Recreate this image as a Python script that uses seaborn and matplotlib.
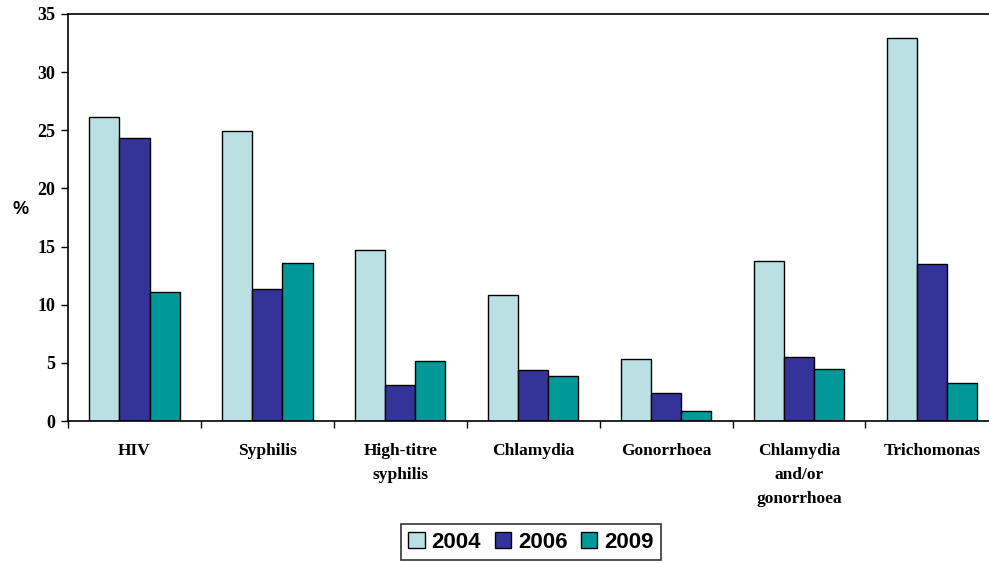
import numpy as np
import pandas as pd
import matplotlib
matplotlib.use("Agg")
import matplotlib.pyplot as plt
import seaborn as sns

# data
categories = ["HIV", "Syphilis", "High-titre\nsyphilis", "Chlamydia",
              "Gonorrhoea", "Chlamydia\nand/or\ngonorrhoea", "Trichomonas"]
years = ["2004", "2006", "2009"]
values_2004 = [26.1, 24.9, 14.7, 10.8, 5.3, 13.8, 32.9]
values_2006 = [24.3, 11.35, 3.1, 4.35, 2.4, 5.5, 13.5]
values_2009 = [11.1, 13.6, 5.2, 3.9, 0.85, 4.45, 3.3]
colors = ["#BBE0E3", "#333399", "#009999"]
y_ticks = [0, 5, 10, 15, 20, 25, 30, 35]

df = pd.DataFrame({
    "category": categories * 3,
    "year": [years[0]] * 7 + [years[1]] * 7 + [years[2]] * 7,
    "value": values_2004 + values_2006 + values_2009,
})

sns.set_style("white")
plt.rcParams.update({"text.color": "black", "axes.labelcolor": "black",
                     "xtick.color": "black", "ytick.color": "black"})

fig = plt.figure(figsize=(9.89, 5.63), dpi=100)
ax = fig.add_axes([68 / 989, (563 - 421) / 563, 1 - 68 / 989, (421 - 14) / 563])

sns.barplot(data=df, x="category", y="value", hue="year", order=categories,
            hue_order=years, palette=colors, width=0.68, gap=0,
            edgecolor="black", linewidth=1, saturation=1, ax=ax)

ax.set_ylim(0, 35)
ax.set_xlim(-0.5, 6.43)
ax.set_yticks(y_ticks)
ax.set_yticklabels([str(t) for t in y_ticks], fontfamily="Liberation Serif",
                   fontweight="bold", fontsize=13)
ax.set_xticks(range(len(categories)))
ax.set_xticklabels(categories, fontfamily="Liberation Serif",
                   fontweight="bold", fontsize=12.5, linespacing=1.65)
ax.tick_params(axis="x", which="major", length=0, pad=16)
ax.set_xticks(np.arange(-0.5, 6.5, 1), minor=True)
ax.tick_params(axis="x", which="minor", length=5, width=1, color="black",
               direction="out", bottom=True)
ax.tick_params(axis="y", length=5, width=1, color="black", direction="out",
               left=True, pad=4)

ax.set_xlabel("")
ax.set_ylabel("%", rotation=0, fontfamily="Liberation Sans",
              fontweight="bold", fontsize=13)
ax.yaxis.set_label_coords(-0.052, 0.5)

for side in ["left", "bottom", "top"]:
    ax.spines[side].set_visible(True)
    ax.spines[side].set_color("black")
    ax.spines[side].set_linewidth(1.2)
ax.spines["right"].set_visible(False)

handles, labels = ax.get_legend_handles_labels()
leg = ax.legend(handles, labels, loc="lower center",
                bbox_to_anchor=(531 / 989, -0.015),
                bbox_transform=fig.transFigure, ncol=3, frameon=True,
                fancybox=False, edgecolor="black", handlelength=0.75,
                handleheight=0.75, handletextpad=0.3, columnspacing=0.6,
                borderpad=0.35, prop={"family": "Liberation Sans",
                                      "weight": "bold", "size": 16})
leg.get_frame().set_linewidth(1.2)
for t in leg.get_texts():
    t.set_color("black")

fig.savefig("out.png", dpi=100)
